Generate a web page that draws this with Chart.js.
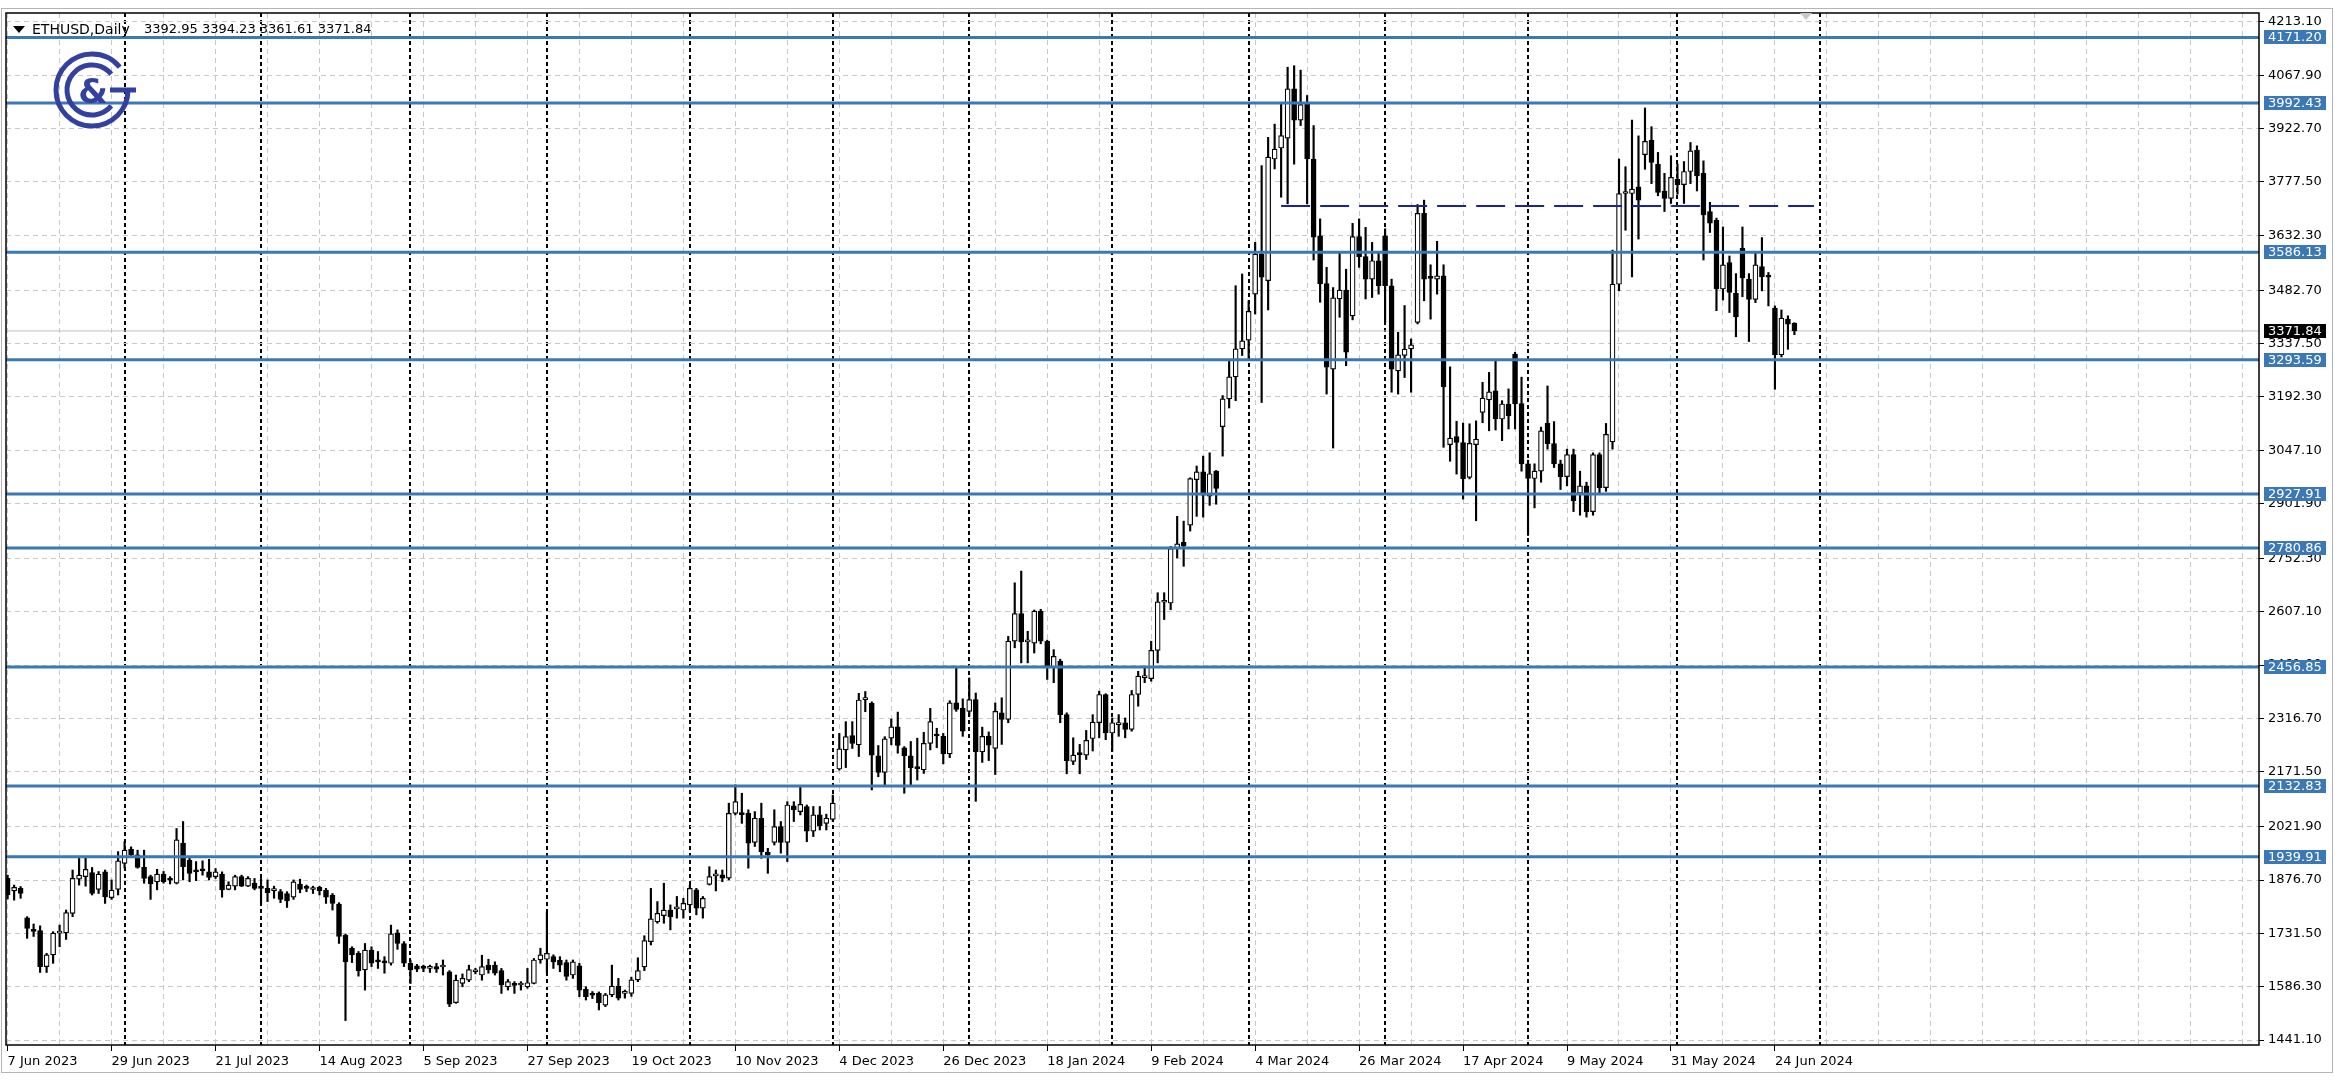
<!DOCTYPE html>
<html>
<head>
<meta charset="utf-8">
<title>ETHUSD, Daily</title>
<script src="https://cdn.jsdelivr.net/npm/chart.js@4.4.1/dist/chart.umd.min.js"></script>
<style>
  html, body { margin: 0; padding: 0; background: #fff; }
  #wrap { width: 2335px; height: 1089px; }
</style>
</head>
<body>
<div id="wrap"><canvas id="chart" width="2335" height="1089"></canvas></div>
<script>
// daily candles, bar 0 = 7 Jun 2023 ... bar 275 = last bar (weekdays only)
const opens = [
  1881, 1847, 1854, 1774, 1740, 1739, 1641, 1673, 1732, 1733,
  1786, 1879, 1886, 1897, 1851, 1899, 1829, 1851, 1922, 1960,
  1945, 1911, 1886, 1872, 1893, 1877, 1868, 1977, 1931, 1900,
  1903, 1899, 1886, 1893, 1851, 1860, 1886, 1860, 1868, 1855,
  1854, 1848, 1845, 1840, 1830, 1866, 1855, 1851, 1857, 1849,
  1836, 1811, 1727, 1691, 1677, 1632, 1686, 1655, 1652, 1650,
  1733, 1704, 1650, 1643, 1637, 1636, 1641, 1640, 1627, 1543,
  1595, 1604, 1627, 1618, 1645, 1645, 1630, 1586, 1591, 1591,
  1586, 1595, 1659, 1661, 1668, 1659, 1652, 1618, 1643, 1579,
  1564, 1568, 1536, 1564, 1588, 1568, 1568, 1605, 1640, 1709,
  1763, 1780, 1795, 1798, 1795, 1809, 1850, 1800, 1865, 1888,
  1891, 1882, 2058, 2057, 2058, 1979, 2045, 1952, 1979, 2022,
  1979, 2079, 2063, 2077, 2010, 2054, 2031, 2042, 2179, 2231,
  2270, 2245, 2368, 2358, 2215, 2170, 2263, 2294, 2237, 2215,
  2181, 2177, 2249, 2270, 2268, 2220, 2359, 2345, 2336, 2368,
  2226, 2268, 2235, 2332, 2314, 2527, 2602, 2525, 2522, 2609,
  2527, 2456, 2473, 2327, 2200, 2219, 2217, 2262, 2305, 2382,
  2277, 2300, 2305, 2287, 2382, 2428, 2425, 2502, 2633, 2631,
  2781, 2796, 2843, 2967, 2988, 2922, 2990, 3111, 3187, 3247,
  3323, 3347, 3472, 3581, 3509, 3840, 3870, 3897, 4031, 3946,
  3994, 3840, 3631, 3501, 3268, 3459, 3483, 3413, 3629, 3574,
  3513, 3563, 3631, 3495, 3263, 3305, 3323, 3395, 3692, 3516,
  3513, 3522, 3062, 3084, 3068, 2973, 3062, 3150, 3184, 3209,
  3132, 3173, 3309, 3174, 3010, 2970, 2990, 3120, 3065, 3010,
  2975, 3035, 2930, 2950, 2880, 3035, 2945, 3070, 3499, 3746,
  3746, 3764, 3852, 3891, 3826, 3753, 3733, 3785, 3770, 3806,
  3864, 3801, 3697, 3674, 3486, 3558, 3474, 3597, 3513, 3458,
  3547, 3519, 3434, 3307, 3404, 3392.95
];
const highs = [
  1890, 1863, 1859, 1777, 1757, 1752, 1677, 1736, 1754, 1795,
  1904, 1938, 1940, 1911, 1900, 1904, 1877, 1954, 1981, 1967,
  1958, 1958, 1890, 1906, 1900, 1886, 2017, 2036, 1940, 1927,
  1929, 1933, 1908, 1899, 1872, 1890, 1890, 1886, 1881, 1881,
  1877, 1860, 1851, 1845, 1877, 1879, 1863, 1860, 1860, 1854,
  1840, 1815, 1730, 1695, 1682, 1704, 1695, 1682, 1668, 1754,
  1741, 1709, 1659, 1647, 1645, 1645, 1650, 1659, 1630, 1618,
  1621, 1645, 1636, 1672, 1661, 1654, 1636, 1606, 1600, 1600,
  1636, 1663, 1691, 1790, 1673, 1668, 1659, 1659, 1650, 1586,
  1573, 1572, 1568, 1645, 1609, 1577, 1612, 1665, 1725, 1854,
  1818, 1868, 1809, 1832, 1827, 1863, 1854, 1832, 1913, 1904,
  1904, 2086, 2136, 2113, 2068, 2063, 2086, 1963, 2068, 2036,
  2090, 2090, 2131, 2081, 2077, 2077, 2056, 2108, 2276, 2308,
  2308, 2385, 2390, 2362, 2243, 2267, 2315, 2334, 2240, 2254,
  2263, 2279, 2344, 2290, 2276, 2365, 2454, 2370, 2427, 2386,
  2293, 2280, 2359, 2373, 2540, 2686, 2718, 2554, 2612, 2614,
  2530, 2504, 2478, 2332, 2264, 2246, 2284, 2327, 2391, 2384,
  2318, 2327, 2318, 2393, 2445, 2459, 2527, 2659, 2659, 2785,
  2867, 2854, 2972, 3004, 3031, 3040, 2992, 3196, 3291, 3495,
  3527, 3454, 3613, 3822, 3899, 3935, 3994, 4090, 4094, 4082,
  4013, 3931, 3677, 3545, 3490, 3586, 3540, 3665, 3677, 3654,
  3613, 3586, 3650, 3513, 3368, 3441, 3350, 3716, 3728, 3552,
  3616, 3552, 3274, 3126, 3121, 3119, 3127, 3232, 3259, 3291,
  3182, 3214, 3314, 3246, 3020, 3010, 3110, 3222, 3125, 3020,
  3050, 3050, 2990, 2960, 3040, 3040, 3120, 3592, 3840, 3819,
  3946, 3903, 3979, 3928, 3858, 3801, 3849, 3826, 3833, 3885,
  3876, 3835, 3722, 3679, 3655, 3576, 3528, 3655, 3528, 3586,
  3626, 3531, 3440, 3429, 3413, 3394.23
];
const lows = [
  1825, 1822, 1827, 1718, 1723, 1625, 1625, 1650, 1695, 1715,
  1777, 1863, 1860, 1836, 1840, 1813, 1824, 1836, 1909, 1939,
  1909, 1868, 1824, 1850, 1868, 1866, 1866, 1877, 1872, 1875,
  1890, 1877, 1881, 1830, 1850, 1850, 1859, 1859, 1850, 1809,
  1818, 1827, 1815, 1802, 1824, 1842, 1845, 1840, 1836, 1813,
  1795, 1704, 1494, 1652, 1615, 1577, 1641, 1636, 1623, 1645,
  1688, 1641, 1595, 1627, 1627, 1625, 1625, 1618, 1532, 1541,
  1586, 1600, 1621, 1604, 1623, 1618, 1568, 1577, 1568, 1577,
  1582, 1594, 1650, 1623, 1636, 1627, 1604, 1609, 1559, 1550,
  1554, 1523, 1532, 1559, 1550, 1555, 1560, 1600, 1630, 1700,
  1759, 1759, 1741, 1773, 1773, 1791, 1782, 1773, 1863, 1847,
  1872, 1877, 2054, 2031, 1909, 1968, 1936, 1895, 1972, 1950,
  1927, 2036, 2054, 1981, 1995, 2013, 2013, 2036, 2176, 2183,
  2235, 2213, 2335, 2122, 2158, 2136, 2245, 2222, 2113, 2131,
  2149, 2167, 2231, 2237, 2193, 2210, 2336, 2268, 2323, 2091,
  2197, 2202, 2164, 2246, 2305, 2509, 2468, 2468, 2495, 2520,
  2423, 2414, 2305, 2166, 2191, 2166, 2205, 2228, 2264, 2259,
  2228, 2268, 2264, 2282, 2350, 2414, 2418, 2468, 2586, 2613,
  2754, 2731, 2827, 2867, 2865, 2897, 2900, 3031, 3162, 3182,
  3305, 3295, 3418, 3177, 3429, 3813, 3736, 3718, 3826, 3931,
  3718, 3565, 3450, 3200, 3053, 3409, 3277, 3402, 3545, 3459,
  3463, 3472, 3395, 3205, 3200, 3245, 3205, 3391, 3454, 3404,
  3472, 3055, 3017, 2982, 2914, 2969, 2855, 3122, 3100, 3102,
  3073, 3105, 3105, 2990, 2815, 2890, 2960, 3050, 3000, 2940,
  2950, 2880, 2870, 2865, 2870, 2930, 2935, 3050, 3481, 3646,
  3519, 3622, 3812, 3773, 3740, 3697, 3719, 3744, 3719, 3773,
  3753, 3565, 3640, 3427, 3456, 3422, 3356, 3465, 3343, 3449,
  3481, 3440, 3213, 3301, 3322, 3361.61
];
const closes = [
  1836, 1857, 1840, 1745, 1737, 1641, 1673, 1732, 1733, 1788,
  1881, 1890, 1906, 1840, 1893, 1831, 1849, 1929, 1958, 1945,
  1911, 1881, 1866, 1893, 1872, 1876, 1986, 1913, 1895, 1899,
  1902, 1884, 1899, 1850, 1863, 1886, 1860, 1881, 1854, 1854,
  1842, 1848, 1824, 1820, 1872, 1851, 1854, 1852, 1848, 1830,
  1813, 1723, 1654, 1673, 1630, 1686, 1650, 1654, 1651, 1730,
  1704, 1650, 1632, 1634, 1636, 1637, 1634, 1641, 1539, 1604,
  1609, 1633, 1628, 1641, 1632, 1623, 1591, 1600, 1590, 1592,
  1597, 1659, 1673, 1677, 1654, 1645, 1614, 1654, 1577, 1559,
  1563, 1543, 1564, 1588, 1555, 1569, 1605, 1630, 1712, 1771,
  1786, 1795, 1777, 1800, 1813, 1854, 1800, 1827, 1886, 1889,
  1882, 2058, 2090, 2055, 1977, 2045, 1954, 1945, 2022, 1979,
  2081, 2068, 2083, 2010, 2054, 2024, 2045, 2086, 2234, 2267,
  2249, 2367, 2370, 2217, 2170, 2261, 2294, 2243, 2215, 2183,
  2180, 2249, 2308, 2269, 2220, 2359, 2341, 2282, 2368, 2226,
  2268, 2244, 2336, 2314, 2527, 2602, 2525, 2526, 2609, 2527,
  2454, 2486, 2327, 2202, 2217, 2218, 2257, 2307, 2382, 2277,
  2305, 2301, 2287, 2382, 2432, 2429, 2502, 2634, 2634, 2779,
  2792, 2786, 2970, 2988, 2925, 2983, 2943, 3187, 3247, 3323,
  3345, 3425, 3581, 3518, 3845, 3867, 3904, 4031, 3946, 3988,
  3840, 3627, 3500, 3273, 3462, 3483, 3314, 3629, 3574, 3513,
  3563, 3495, 3495, 3268, 3307, 3322, 3334, 3692, 3513, 3515,
  3522, 3220, 3080, 3068, 2969, 3066, 3077, 3189, 3206, 3132,
  3173, 3141, 3173, 3010, 2970, 2990, 3100, 3065, 3010, 2975,
  3035, 2910, 2950, 2880, 3035, 2945, 3090, 3499, 3746, 3747,
  3758, 3728, 3888, 3831, 3749, 3733, 3790, 3770, 3806, 3862,
  3794, 3688, 3665, 3486, 3552, 3477, 3410, 3516, 3458, 3552,
  3519, 3518, 3307, 3407, 3390, 3371.84
];

// one date label every 16 bars
const dateLabels = [
  "7 Jun 2023", "29 Jun 2023", "21 Jul 2023", "14 Aug 2023", "5 Sep 2023",
  "27 Sep 2023", "19 Oct 2023", "10 Nov 2023", "4 Dec 2023", "26 Dec 2023",
  "18 Jan 2024", "9 Feb 2024", "4 Mar 2024", "26 Mar 2024", "17 Apr 2024",
  "9 May 2024", "31 May 2024", "24 Jun 2024"
];
const labelStep = 16;
const gridStep = 8;
// first bar of each month (period separators)
const monthStarts = [18, 39, 62, 83, 105, 127, 148, 170, 191, 212, 234, 257, 279];

const priceTicks = [
  4213.10, 4067.90, 3922.70, 3777.50, 3632.30, 3482.70, 3337.50, 3192.30, 3047.10, 2901.90,
  2752.30, 2607.10, 2461.90, 2316.70, 2171.50, 2021.90, 1876.70, 1731.50, 1586.30, 1441.10
];
const levels = [4171.20, 3992.43, 3586.13, 3293.59, 2927.91, 2780.86, 2456.85, 2132.83, 1939.91];
const lastPrice = 3371.84;
const dashedLevel = 3712;
const dashedFrom = 196;
const dashedTo = 278;
const symbolText = "ETHUSD,Daily";
const ohlcText = "3392.95 3394.23 3361.61 3371.84";

const xMin = -0.25;
const xMax = 346.5;
const yMin = 1427.5;
const yMax = 4237.6;

const blue = "#3b78b5";
const font = '"DejaVu Sans", sans-serif';

const bodies = opens.map((o, i) => ({ x: i, y: [o, closes[i]] }));
const wicks = lows.map((l, i) => ({ x: i, y: [l, highs[i]] }));
const bodyFill = opens.map((o, i) => (closes[i] >= o ? "#ffffff" : "#000000"));

const datasets = [];
levels.forEach((v) => {
  datasets.push({
    type: "line",
    data: [{ x: xMin, y: v }, { x: xMax, y: v }],
    borderColor: blue,
    borderWidth: 3,
    pointRadius: 0,
    order: 0,
  });
});
datasets.push({
  type: "line",
  data: [{ x: dashedFrom, y: dashedLevel }, { x: dashedTo, y: dashedLevel }],
  borderColor: "#1f22a0",
  borderWidth: 2,
  borderDash: [29, 10],
  pointRadius: 0,
  order: 0,
});
datasets.push({
  type: "line",
  data: [{ x: xMin, y: lastPrice }, { x: xMax, y: lastPrice }],
  borderColor: "#c0c0c0",
  borderWidth: 1,
  pointRadius: 0,
  order: 3,
});
datasets.push({
  data: bodies,
  backgroundColor: bodyFill,
  borderColor: "#000",
  borderWidth: 1.2,
  borderSkipped: false,
  barThickness: 5,
  minBarLength: 2,
  grouped: false,
  order: 1,
});
datasets.push({
  data: wicks,
  backgroundColor: "#000",
  borderWidth: 0,
  barThickness: 1.5,
  grouped: false,
  order: 2,
});

const isMonth = (ctx) => ctx.tick && monthStarts.includes(ctx.tick.value);
const isLabel = (ctx) => ctx.tick && ctx.tick.value % labelStep === 0 && ctx.tick.value / labelStep < dateLabels.length;

const overlay = {
  id: "overlay",
  afterDraw(chart) {
    const { ctx, chartArea: a, scales } = chart;
    const y = scales.y;
    ctx.save();

    // window frame
    ctx.strokeStyle = "#b4b4b4";
    ctx.lineWidth = 1;
    ctx.strokeRect(1.5, 8.5, 2331, 1064);

    // chart frame
    ctx.strokeStyle = "#000";
    ctx.lineWidth = 1.5;
    ctx.strokeRect(a.left, a.top, a.right - a.left, a.bottom - a.top);

    // price tags on the right scale
    ctx.font = "13px " + font;
    ctx.textBaseline = "middle";
    ctx.textAlign = "left";
    const tag = (v, bg) => {
      const py = Math.round(y.getPixelForValue(v));
      ctx.fillStyle = bg;
      ctx.fillRect(a.right + 5, py - 7, 62, 14);
      ctx.fillStyle = "#fff";
      ctx.fillText(v.toFixed(2), a.right + 9, py + 1);
    };
    levels.forEach((v) => tag(v, blue));
    tag(lastPrice, "#000");

    // title
    ctx.fillStyle = "#000";
    ctx.beginPath();
    ctx.moveTo(13, 26);
    ctx.lineTo(25, 26);
    ctx.lineTo(19, 33);
    ctx.closePath();
    ctx.fill();
    ctx.font = "14px " + font;
    ctx.fillText(symbolText, 32, 30);
    ctx.font = "13px " + font;
    ctx.fillText(ohlcText, 144, 30);

    // chart shift marker
    ctx.fillStyle = "#c8c8c8";
    ctx.beginPath();
    ctx.moveTo(1800, 13);
    ctx.lineTo(1812, 13);
    ctx.lineTo(1806, 20);
    ctx.closePath();
    ctx.fill();

    // logo
    const cx = 92, cy = 90;
    ctx.strokeStyle = "#3340a0";
    ctx.fillStyle = "#3340a0";
    ctx.lineWidth = 5;
    ctx.beginPath();
    ctx.arc(cx, cy, 36, 0, Math.PI * 1.78);
    ctx.stroke();
    ctx.beginPath();
    ctx.arc(cx, cy, 25, Math.PI * 0.22, Math.PI * 1.78);
    ctx.stroke();
    ctx.beginPath();
    ctx.moveTo(cx + 18, cy);
    ctx.lineTo(cx + 44, cy);
    ctx.stroke();
    ctx.font = "bold 34px " + font;
    ctx.textAlign = "center";
    ctx.fillText("&", cx + 1, cy + 4);

    ctx.restore();
  },
};

new Chart(document.getElementById("chart"), {
  type: "bar",
  data: { datasets: datasets },
  plugins: [overlay],
  options: {
    responsive: false,
    animation: false,
    events: [],
    layout: { padding: { left: 6, top: 13, right: 0, bottom: 0 } },
    plugins: { legend: { display: false }, tooltip: { enabled: false } },
    scales: {
      x: {
        type: "linear",
        min: xMin,
        max: xMax,
        offset: false,
        afterBuildTicks: (s) => {
          const vals = [];
          for (let v = 0; v <= 344; v += gridStep) vals.push(v);
          monthStarts.forEach((m) => vals.push(m));
          vals.sort((p, q) => p - q);
          s.ticks = vals.map((v) => ({ value: v }));
        },
        afterFit: (s) => { s.height = 44; },
        ticks: {
          autoSkip: false,
          maxRotation: 0,
          minRotation: 0,
          align: "start",
          padding: 3,
          color: "#000",
          font: { family: "DejaVu Sans", size: 13 },
          callback: (v) => (v % labelStep === 0 && v / labelStep < dateLabels.length ? dateLabels[v / labelStep] : ""),
        },
        grid: {
          offset: false,
          color: (ctx) => (isMonth(ctx) ? "#000" : "#c8c8c8"),
          lineWidth: (ctx) => (isMonth(ctx) ? 2 : 1),
          drawTicks: true,
          tickLength: 6,
          tickWidth: 1,
          tickColor: (ctx) => (isLabel(ctx) ? "#000" : "rgba(0,0,0,0)"),
        },
        border: {
          display: false,
          dash: (ctx) => (isMonth(ctx) ? [4, 3] : [5, 4]),
        },
      },
      y: {
        type: "linear",
        position: "right",
        min: yMin,
        max: yMax,
        beginAtZero: false,
        afterBuildTicks: (s) => { s.ticks = priceTicks.map((v) => ({ value: v })); },
        afterFit: (s) => { s.width = 76; },
        ticks: {
          autoSkip: false,
          padding: 4,
          color: "#000",
          font: { family: "DejaVu Sans", size: 13 },
          callback: (v) => v.toFixed(2),
        },
        grid: {
          color: "#c8c8c8",
          lineWidth: 1,
          drawTicks: true,
          tickLength: 5,
          tickColor: "#000",
        },
        border: { display: false, dash: [5, 4] },
      },
    },
  },
});
</script>
</body>
</html>
